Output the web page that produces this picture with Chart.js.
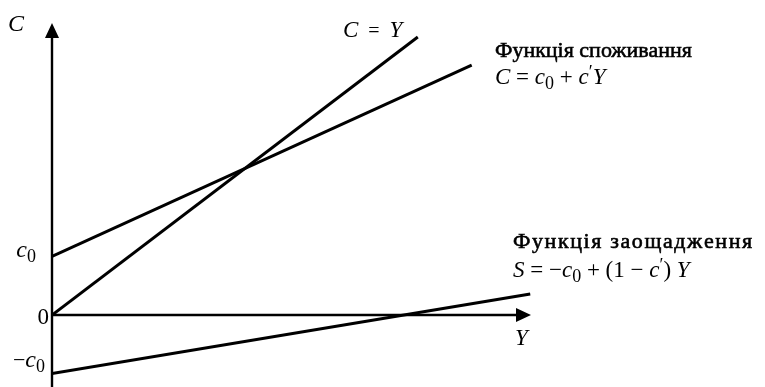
<!DOCTYPE html>
<html>
<head>
<meta charset="utf-8">
<script src="https://cdn.jsdelivr.net/npm/chart.js@4.4.1/dist/chart.umd.min.js"></script>
<style>
  body { margin: 0; background: #fff; }
  canvas { display: block; }
  .prime { position: absolute; left: -9999px; top: 0; font-family: 'Liberation Serif'; font-size: 22px; }
</style>
</head>
<body>
<div class="prime">Функція <i>C Y c</i> 0 − <b>b</b></div>
<canvas id="chart" width="765" height="387"></canvas>
<script>
// income Y on the x axis, c0 = 1 on the vertical axis
const diagonalY = [0, 4.75];
const diagonalC = [0, 4.75];
const consumptionY = [0, 5.45];
const consumptionC = [1, 4.27];
const savingsY = [0, 6.21];
const savingsS = [-1, 0.36];

const xRange = [0, 6.22];
const yRange = [-1.23, 4.99];

const serif = "'Liberation Serif', 'Times New Roman', serif";
const ink = "#000";

function toPoints(xs, ys) {
  return xs.map((x, i) => ({ x: x, y: ys[i] }));
}

function lineSet(xs, ys) {
  return {
    data: toPoints(xs, ys),
    showLine: true,
    borderColor: ink,
    borderWidth: 3,
    pointRadius: 0,
    fill: false,
  };
}

// runs: [text, style, size, dy]
function runWidth(ctx, runs) {
  let w = 0;
  runs.forEach((r) => {
    ctx.font = r[1] + " " + r[2] + "px " + serif;
    w += ctx.measureText(r[0]).width;
  });
  return w;
}

function drawRuns(ctx, runs, x, y, align, spacing, heavy) {
  if (align === "right") x -= runWidth(ctx, runs);
  ctx.textAlign = "left";
  ctx.textBaseline = "alphabetic";
  ctx.fillStyle = ink;
  ctx.strokeStyle = ink;
  ctx.lineWidth = 0.6;
  runs.forEach((r) => {
    ctx.font = r[1] + " " + r[2] + "px " + serif;
    const parts = spacing ? r[0].split("") : [r[0]];
    parts.forEach((p) => {
      ctx.fillText(p, x, y + (r[3] || 0));
      if (heavy) ctx.strokeText(p, x, y + (r[3] || 0));
      x += ctx.measureText(p).width + (spacing || 0);
    });
  });
}

const labels = [
  { x: 8, y: 31, runs: [["C", "italic", 24]] },
  { x: 343, y: 37, runs: [["C", "italic", 23], ["  =  ", "normal", 20], ["Y", "italic", 23]] },
  { x: 495, y: 57, heavy: true, runs: [["Функція споживання", "normal", 22]] },
  {
    x: 495, y: 84,
    runs: [["C", "italic", 23], [" = ", "normal", 23], ["c", "italic", 23], ["0", "normal", 18, 5],
      [" + ", "normal", 23], ["c", "italic", 23], ["\u2032", "normal", 18, -6], ["Y", "italic", 23]],
  },
  { x: 513, y: 248, heavy: true, spacing: 1.6, runs: [["Функція заощадження", "normal", 22]] },
  {
    x: 513, y: 277,
    runs: [["S", "italic", 23], [" = \u2212", "normal", 23], ["c", "italic", 23], ["0", "normal", 18, 5],
      [" + (1 \u2212 ", "normal", 23], ["c", "italic", 23], ["\u2032", "normal", 18, -6], [") ", "normal", 23], ["Y", "italic", 23]],
  },
  { x: 515, y: 345, runs: [["Y", "italic", 23]] },
  { x: 36, y: 257, align: "right", runs: [["c", "italic", 24], ["0", "normal", 18, 5]] },
  { x: 49, y: 324, align: "right", runs: [["0", "normal", 23]] },
  { x: 45, y: 367, align: "right", runs: [["\u2212", "normal", 22], ["c", "italic", 24], ["0", "normal", 18, 5]] },
];

const axesPlugin = {
  id: "arrowAxes",
  beforeDatasetsDraw(chart) {
    const ctx = chart.ctx;
    const area = chart.chartArea;
    const x0 = chart.scales.x.getPixelForValue(0);
    const y0 = chart.scales.y.getPixelForValue(0);
    const head = 14;
    ctx.save();
    ctx.strokeStyle = ink;
    ctx.fillStyle = ink;
    ctx.lineWidth = 2.4;
    ctx.beginPath();
    ctx.moveTo(x0, area.bottom);
    ctx.lineTo(x0, area.top + head);
    ctx.moveTo(x0, y0);
    ctx.lineTo(area.right - head, y0);
    ctx.stroke();
    ctx.beginPath();
    ctx.moveTo(x0, area.top);
    ctx.lineTo(x0 - 7, area.top + head + 1);
    ctx.lineTo(x0 + 7, area.top + head + 1);
    ctx.closePath();
    ctx.fill();
    ctx.beginPath();
    ctx.moveTo(area.right, y0);
    ctx.lineTo(area.right - head - 1, y0 - 7);
    ctx.lineTo(area.right - head - 1, y0 + 7);
    ctx.closePath();
    ctx.fill();
    ctx.restore();
  },
  afterDraw(chart) {
    const ctx = chart.ctx;
    ctx.save();
    labels.forEach((l) => drawRuns(ctx, l.runs, l.x, l.y, l.align, l.spacing, l.heavy));
    ctx.restore();
  },
};

const chart = new Chart(document.getElementById("chart").getContext("2d"), {
  type: "scatter",
  data: {
    datasets: [
      lineSet(diagonalY, diagonalC),
      lineSet(consumptionY, consumptionC),
      lineSet(savingsY, savingsS),
    ],
  },
  options: {
    responsive: false,
    animation: false,
    layout: { padding: { left: 52, right: 234, top: 23, bottom: 0 } },
    plugins: { legend: { display: false }, tooltip: { enabled: false } },
    scales: {
      x: { type: "linear", display: false, min: xRange[0], max: xRange[1] },
      y: { type: "linear", display: false, min: yRange[0], max: yRange[1] },
    },
  },
  plugins: [axesPlugin],
});

document.fonts.ready.then(() => chart.draw());
</script>
</body>
</html>
